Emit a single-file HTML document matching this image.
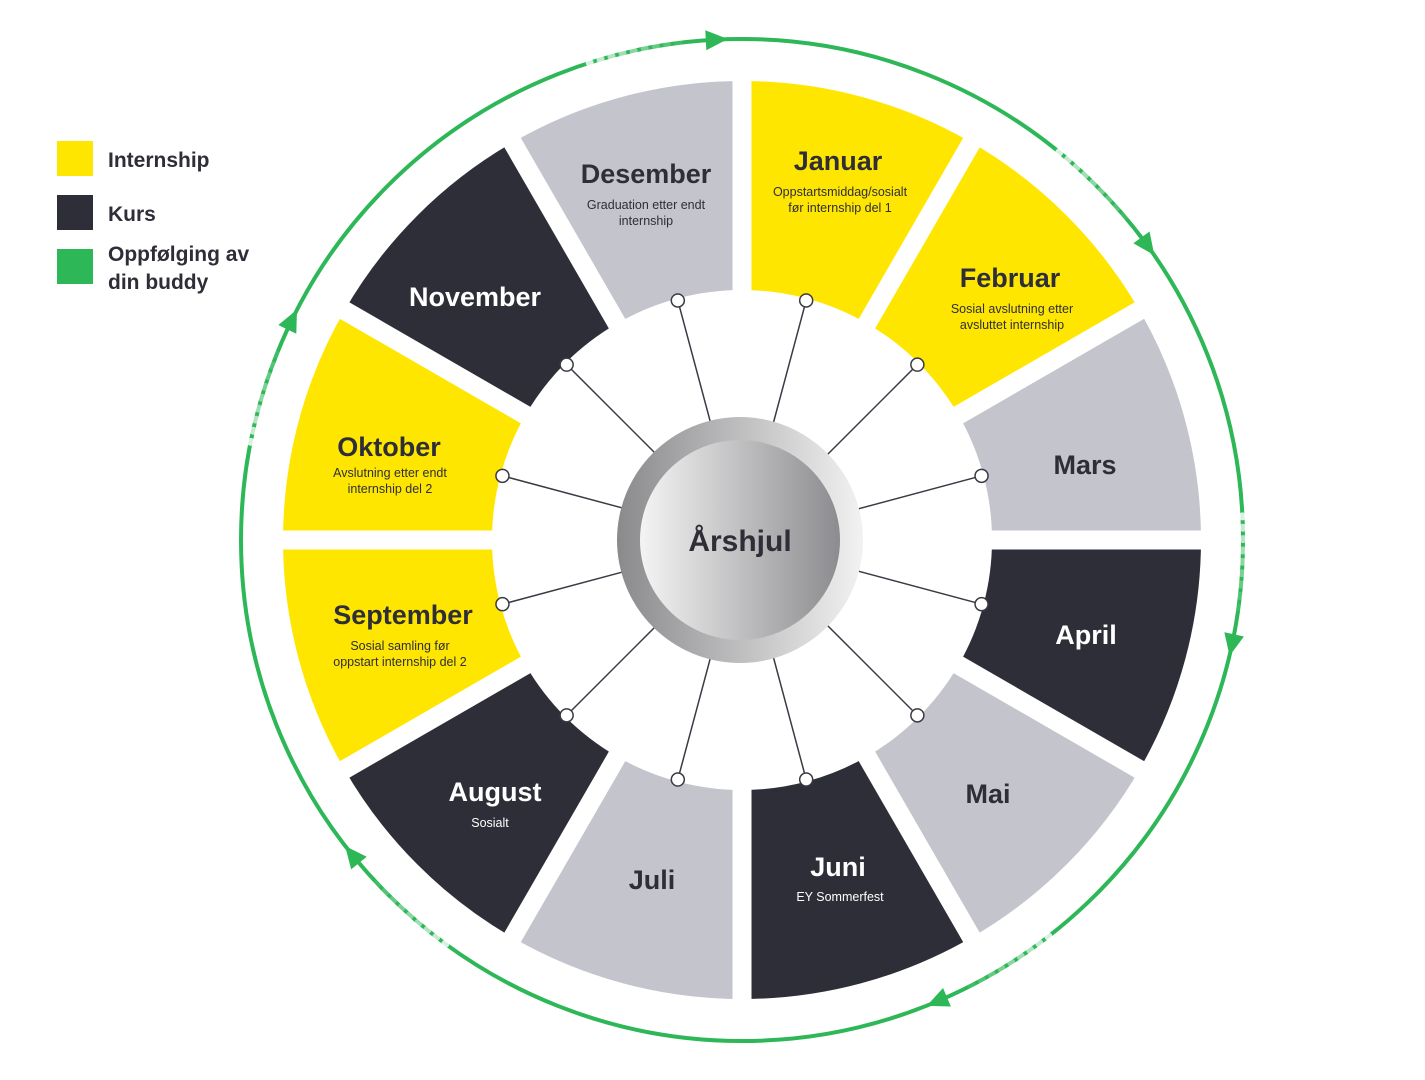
<!DOCTYPE html>
<html><head><meta charset="utf-8"><style>
html,body{margin:0;padding:0;background:#fff;}
svg{display:block;font-family:"Liberation Sans","DejaVu Sans",sans-serif;}
</style></head><body>
<svg id="s" width="1425" height="1080" viewBox="0 0 1425 1080" xmlns="http://www.w3.org/2000/svg">
<defs>
<linearGradient id="ring" x1="0" y1="0" x2="1" y2="0"><stop offset="0" stop-color="#8a8a8d"/><stop offset="1" stop-color="#f2f2f2"/></linearGradient>
<linearGradient id="core" x1="0" y1="0" x2="1" y2="0"><stop offset="0" stop-color="#f4f4f4"/><stop offset="1" stop-color="#8c8c8f"/></linearGradient>
</defs>
<g id="segs"></g>
<circle cx="742" cy="540" r="501" fill="none" stroke="#2DB757" stroke-width="4"/>
<g id="arrows"></g>
<g id="conn"></g>
<circle cx="740" cy="540" r="123" fill="url(#ring)"/>
<circle cx="740" cy="540" r="100" fill="url(#core)"/>
<text x="740" y="551" text-anchor="middle" font-size="30" font-weight="bold" fill="#2e2e38">Årshjul</text>
<rect x="57" y="141" width="36" height="35" fill="#FFE600"/>
<rect x="57" y="195" width="36" height="35" fill="#2E2E38"/>
<rect x="57" y="249" width="36" height="35" fill="#2DB757"/>
<g font-size="21" font-weight="bold" fill="#2e2e38">
<text x="108" y="167">Internship</text>
<text x="108" y="221">Kurs</text>
<text x="108" y="261">Oppfølging av</text>
<text x="108" y="289">din buddy</text>
</g>
<g text-anchor="middle" font-weight="bold" font-size="27">
<text x="838" y="170" fill="#2e2e38">Januar</text>
<text x="646" y="183" fill="#2e2e38">Desember</text>
<text x="1010" y="287" fill="#2e2e38">Februar</text>
<text x="1085" y="474" fill="#2e2e38">Mars</text>
<text x="1086" y="644" fill="#fff">April</text>
<text x="988" y="803" fill="#2e2e38">Mai</text>
<text x="838" y="876" fill="#fff">Juni</text>
<text x="652" y="889" fill="#2e2e38">Juli</text>
<text x="495" y="801" fill="#fff">August</text>
<text x="403" y="624" fill="#2e2e38">September</text>
<text x="389" y="456" fill="#2e2e38">Oktober</text>
<text x="475" y="306" fill="#fff">November</text>
</g>
<g text-anchor="middle" font-size="12.5" fill="#2e2e38">
<text x="840" y="196">Oppstartsmiddag/sosialt</text>
<text x="840" y="212">før internship del 1</text>
<text x="646" y="209">Graduation etter endt</text>
<text x="646" y="225">internship</text>
<text x="1012" y="313">Sosial avslutning etter</text>
<text x="1012" y="329">avsluttet internship</text>
<text x="840" y="901" fill="#fff">EY Sommerfest</text>
<text x="490" y="827" fill="#fff">Sosialt</text>
<text x="400" y="650">Sosial samling før</text>
<text x="400" y="666">oppstart internship del 2</text>
<text x="390" y="477">Avslutning etter endt</text>
<text x="390" y="493">internship del 2</text>
</g>
</svg>
<script>
var NS="http://www.w3.org/2000/svg",cx=742,cy=540,R=459,r=250;
var cols=["#FFE600","#FFE600","#C4C4CD","#2E2E38","#C4C4CD","#2E2E38","#C4C4CD","#2E2E38","#FFE600","#FFE600","#2E2E38","#C4C4CD"];
function P(a,rad){var t=(a-90)*Math.PI/180;return [cx+rad*Math.cos(t),cy+rad*Math.sin(t)];}
function el(n,at,p){var e=document.createElementNS(NS,n);for(var k in at)e.setAttribute(k,at[k]);p.appendChild(e);return e;}
var segs=document.getElementById("segs"),conn=document.getElementById("conn"),ar=document.getElementById("arrows");
for(var i=0;i<12;i++){var a1=i*30,a2=a1+30,o1=P(a1,R),o2=P(a2,R),i2=P(a2,r),i1=P(a1,r);
el("path",{d:"M"+o1+" A"+R+" "+R+" 0 0 1 "+o2+" L"+i2+" A"+r+" "+r+" 0 0 0 "+i1+"Z",fill:cols[i]},segs);}
for(var i=0;i<12;i++){var a=P(i*30,r-5),b=P(i*30,R+8);el("line",{x1:a[0],y1:a[1],x2:b[0],y2:b[1],stroke:"#fff","stroke-width":19},segs);}
for(var i=0;i<12;i++){var m=i*30+15,a=P(m,120),b=P(m,248);
el("line",{x1:a[0],y1:a[1],x2:b[0],y2:b[1],stroke:"#3a3a44","stroke-width":1.5},conn);
el("circle",{cx:b[0],cy:b[1],r:6.5,fill:"#fff",stroke:"#3a3a44","stroke-width":1.5},conn);}
var as=[-3,54,102,157,231,296];
as.forEach(function(a){var t=P(a,501),t0=(a-90)*Math.PI/180;
var dx=-Math.sin(t0),dy=Math.cos(t0),nx=Math.cos(t0),ny=Math.sin(t0);
for(var k=0;k<10;k++){var aa=a-3-k*1.3,p=P(aa,501);el("circle",{cx:p[0],cy:p[1],r:4,fill:"#fff",opacity:0.09*k},ar);}
var tip=[t[0]+dx*12,t[1]+dy*12],b1=[t[0]-dx*10+nx*10,t[1]-dy*10+ny*10],b2=[t[0]-dx*10-nx*10,t[1]-dy*10-ny*10];
el("polygon",{points:tip+" "+b1+" "+b2,fill:"#2DB757"},ar);});
</script>
</body></html>
